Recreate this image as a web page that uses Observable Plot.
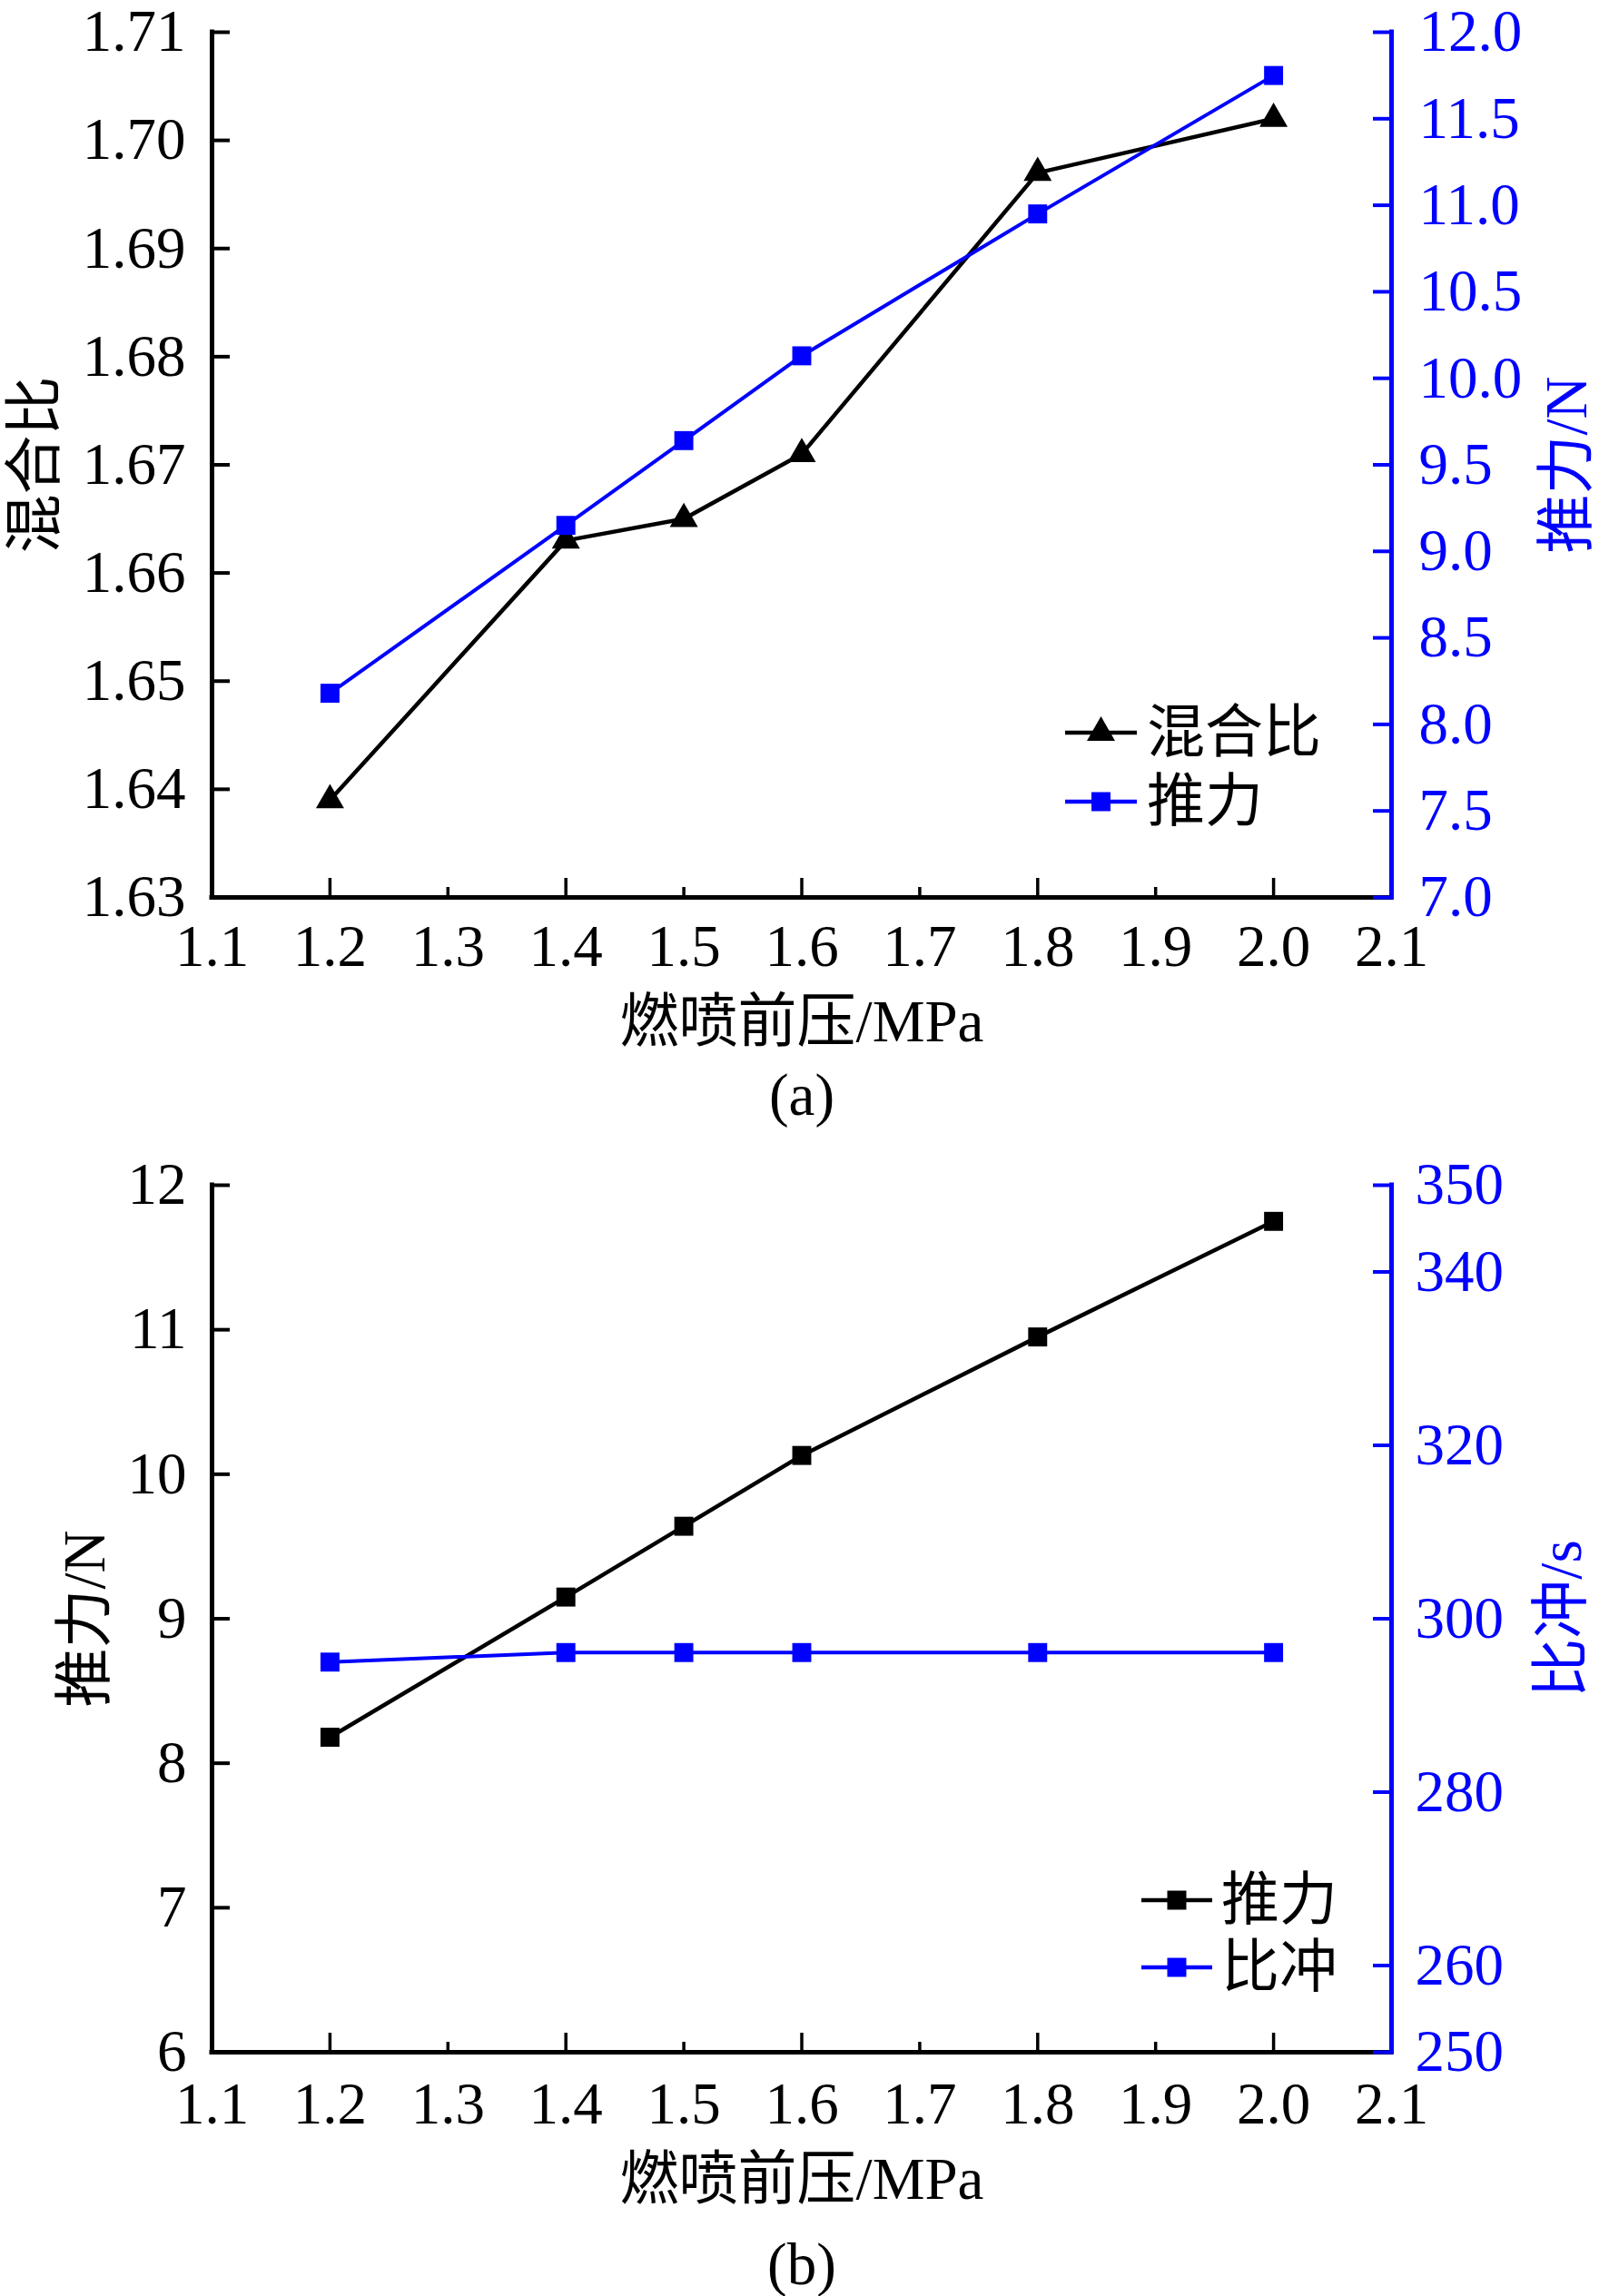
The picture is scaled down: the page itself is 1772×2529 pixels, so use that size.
<!DOCTYPE html>
<html><head><meta charset="utf-8">
<script src="https://cdn.jsdelivr.net/npm/d3@7"></script>
<script src="https://cdn.jsdelivr.net/npm/@observablehq/plot@0.6"></script>
<style>
body{margin:0;background:#fff;}
#root{position:relative;width:1772px;height:2529px;background:#fff;font-family:'Liberation Serif','Noto Sans CJK SC',serif;color:#000;}
.panel{position:absolute;left:0;}
.cap{position:absolute;font-size:65px;line-height:1;transform:translate(-50%,-50%);white-space:nowrap;}
.leg{position:absolute;display:flex;align-items:center;height:80px;font-size:64px;white-space:nowrap;}
.leg span{line-height:1;}
</style></head><body><div id="root"></div>
<script>
// ---- data ----
const pressure = [1.2, 1.4, 1.5, 1.6, 1.8, 2.0];           // 燃喷前压/MPa
const mixRatio = [1.639, 1.663, 1.665, 1.671, 1.697, 1.702]; // 混合比
const thrust   = [8.18, 9.15, 9.64, 10.13, 10.95, 11.75];   // 推力/N
const isp      = [295.0, 296.1, 296.1, 296.1, 296.1, 296.1]; // 比冲/s

const xTicksMajor = [1.2, 1.4, 1.6, 1.8, 2.0];
const xTicksMinor = [1.3, 1.5, 1.7, 1.9];
const xTickLabels = [1.1, 1.2, 1.3, 1.4, 1.5, 1.6, 1.7, 1.8, 1.9, 2.0, 2.1];

const aLeftTicks  = [1.63, 1.64, 1.65, 1.66, 1.67, 1.68, 1.69, 1.70, 1.71];
const aRightTicks = [7.0, 7.5, 8.0, 8.5, 9.0, 9.5, 10.0, 10.5, 11.0, 11.5, 12.0];
const bLeftTicks  = [6, 7, 8, 9, 10, 11, 12];
const bRightTicks = [250, 260, 280, 300, 320, 340, 350];

const BLUE = "#0000ff";
const FONT = "'Liberation Serif','Noto Sans CJK SC',serif";

function makePanel(o) {
  const W = 1772, H = 1160, mL = 233, mR = 240, mT = 35;
  const mB = H - mT - o.frameH;
  const frameW = W - mL - mR;
  const [l0, l1] = o.leftDomain, [r0, r1] = o.rightDomain;
  const toL = v => l0 + (v - r0) / (r1 - r0) * (l1 - l0);
  const fromL = p => r0 + (p - l0) / (l1 - l0) * (r1 - r0);
  const s1 = pressure.map((x, i) => ({x, y: o.s1[i]}));
  const s2 = pressure.map((x, i) => ({x, y: toL(o.s2[i])}));
  return Plot.plot({
    width: W, height: H,
    marginLeft: mL, marginRight: mR, marginTop: mT, marginBottom: mB,
    style: {fontFamily: FONT, fontSize: "65px", background: "#fff", color: "#000", overflow: "visible"},
    x: {domain: [1.1, 2.1]},
    y: {domain: o.leftDomain},
    marks: [
      // axis lines
      Plot.ruleY([l0], {stroke: "#000", strokeWidth: 5, strokeLinecap: "square"}),
      Plot.ruleX([1.1], {stroke: "#000", strokeWidth: 5, strokeLinecap: "square"}),
      Plot.ruleX([2.1], {stroke: BLUE, strokeWidth: 5, strokeLinecap: "square"}),
      // inward ticks
      Plot.tickY(o.leftTicks, {y: d => d, stroke: "#000", strokeWidth: 4, insetRight: frameW - 20}),
      Plot.tickY(o.rightTicks.map(toL), {y: d => d, stroke: BLUE, strokeWidth: 4, insetLeft: frameW - 20}),
      Plot.tickX(xTicksMajor, {x: d => d, stroke: "#000", strokeWidth: 3.5, insetTop: o.frameH - 21}),
      Plot.tickX(xTicksMinor, {x: d => d, stroke: "#000", strokeWidth: 3.5, insetTop: o.frameH - 11}),
      // tick labels
      Plot.axisX({ticks: xTickLabels, tickSize: 0, tickPadding: o.xPad, tickFormat: d3.format(".1f"), fontSize: 65, label: null, color: "#000"}),
      Plot.axisY({anchor: "left", ticks: o.leftTicks, tickSize: 0, tickPadding: o.lPad, tickFormat: o.leftFmt, fontSize: 65, label: null, color: "#000"}),
      Plot.axisY({anchor: "right", ticks: o.rightTicks.map(toL), tickSize: 0, tickPadding: o.rPad, tickFormat: p => o.rightFmt(fromL(p)), fontSize: 65, label: null, color: BLUE}),
      // axis titles
      Plot.text(["燃喷前压/MPa"], {text: d => d, frameAnchor: "bottom", lineAnchor: "middle", textAnchor: "middle", dy: o.xLabDy, fontSize: 65, fill: "#000"}),
      Plot.text([o.leftLabel], {text: d => d, frameAnchor: "left", textAnchor: "middle", lineAnchor: "middle", dx: o.lLabDx, rotate: -90, fontSize: 65, fill: "#000"}),
      Plot.text([o.rightLabel], {text: d => d, frameAnchor: "right", textAnchor: "middle", lineAnchor: "middle", dx: o.rLabDx, rotate: -90, fontSize: 65, fill: BLUE}),
      // series
      Plot.line(s1, {x: "x", y: "y", stroke: "#000", strokeWidth: 4.5}),
      Plot.line(s2, {x: "x", y: "y", stroke: BLUE, strokeWidth: 4}),
      Plot.dot(s1, {x: "x", y: "y", symbol: o.sym1, r: o.r1, fill: "#000", stroke: "none"}),
      Plot.dot(s2, {x: "x", y: "y", symbol: "square", r: 11.8, fill: BLUE, stroke: "none"})
    ]
  });
}

const root = document.getElementById("root");

const pa = makePanel({
  frameH: 953, leftDomain: [1.63, 1.71], rightDomain: [7, 12],
  s1: mixRatio, s2: thrust, sym1: "triangle", r1: 11.5,
  leftTicks: aLeftTicks, rightTicks: aRightTicks,
  leftFmt: d3.format(".2f"), rightFmt: d3.format(".1f"),
  xPad: 29, lPad: 29, rPad: 30,
  xLabDy: 138, lLabDx: -194, rLabDx: 194,
  leftLabel: "混合比", rightLabel: "推力/N"
});
pa.classList.add("panel"); pa.style.top = "0px";
root.appendChild(pa);

const pb = makePanel({
  frameH: 955, leftDomain: [6, 12], rightDomain: [250, 350],
  s1: thrust, s2: isp, sym1: "square", r1: 11.8,
  leftTicks: bLeftTicks, rightTicks: bRightTicks,
  leftFmt: d3.format("d"), rightFmt: d3.format(".0f"),
  xPad: 32, lPad: 28, rPad: 26,
  xLabDy: 141, lLabDx: -139, rLabDx: 188,
  leftLabel: "推力/N", rightLabel: "比冲/s"
});
pb.classList.add("panel"); pb.style.top = "1270px";
root.appendChild(pb);

// captions
function caption(text, x, y) {
  const d = document.createElement("div");
  d.className = "cap"; d.textContent = text;
  d.style.left = x + "px"; d.style.top = y + "px";
  root.appendChild(d);
}
caption("(a)", 883, 1206);
caption("(b)", 883, 2494);

// legends
function legendRow(label, color, symbol, size, left, cy, lineW, gap) {
  const d = document.createElement("div");
  d.className = "leg";
  d.style.left = left + "px"; d.style.top = (cy - 40) + "px";
  const svg = d3.create("svg").attr("width", lineW).attr("height", 80);
  svg.append("line").attr("x1", 0).attr("x2", lineW).attr("y1", 40).attr("y2", 40)
    .attr("stroke", color).attr("stroke-width", 4.5);
  svg.append("path").attr("transform", `translate(${lineW / 2},40)`)
    .attr("d", d3.symbol(symbol, size)()).attr("fill", color);
  d.appendChild(svg.node());
  const s = document.createElement("span");
  s.textContent = label; s.style.marginLeft = gap + "px";
  d.appendChild(s);
  root.appendChild(d);
}
legendRow("混合比", "#000", d3.symbolTriangle, 416, 1173, 807, 79, 11);
legendRow("推力", BLUE, d3.symbolSquare, 440, 1173, 883, 79, 11);
legendRow("推力", "#000", d3.symbolSquare, 440, 1257, 2093, 78, 10);
legendRow("比冲", BLUE, d3.symbolSquare, 440, 1257, 2167, 78, 10);
</script></body></html>
